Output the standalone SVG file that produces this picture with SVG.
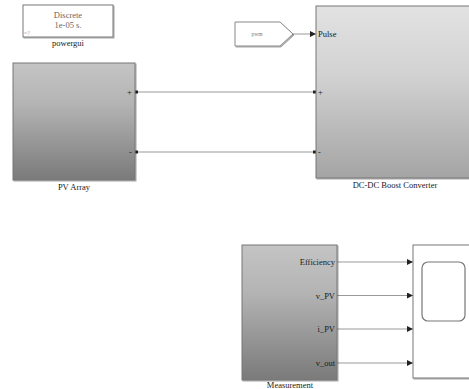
<svg xmlns="http://www.w3.org/2000/svg" width="469" height="389" viewBox="0 0 469 389">
<defs>
<linearGradient id="gPV" x1="0" y1="0" x2="0" y2="1">
<stop offset="0" stop-color="#c4c4c4"/><stop offset="0.35" stop-color="#b4b4b4"/><stop offset="1" stop-color="#7a7a7a"/>
</linearGradient>
<linearGradient id="gConv" x1="0" y1="0" x2="0" y2="1">
<stop offset="0" stop-color="#e2e2e2"/><stop offset="0.4" stop-color="#d2d2d2"/><stop offset="1" stop-color="#a4a4a4"/>
</linearGradient>
<marker id="arr" viewBox="0 0 6 6" refX="6" refY="3" markerWidth="6" markerHeight="6" markerUnits="userSpaceOnUse" orient="auto">
<path d="M0,0 L6,3 L0,6 z" fill="#222"/>
</marker>
<filter id="sh" x="-5%" y="-5%" width="115%" height="115%">
<feDropShadow dx="1" dy="1" stdDeviation="0.6" flood-color="#000" flood-opacity="0.35"/>
</filter>
</defs>
<style>
text{font-family:"Liberation Serif","Times New Roman",serif;fill:#1a1a1a}
.lbl{font-size:8.5px;text-anchor:middle}
.port{font-size:8.5px}
.blk{stroke:#777;stroke-width:1}
.wire{stroke:#999;stroke-width:1;fill:none}
.pt{fill:#222}
</style>

<g id="connectors">
<line class="wire" x1="136" y1="92" x2="316" y2="92"/>
<line class="wire" x1="136" y1="152" x2="316" y2="152"/>
<rect class="pt" x="135" y="90.5" width="3" height="3"/>
<rect class="pt" x="313" y="90.5" width="3" height="3"/>
<rect class="pt" x="135" y="150.5" width="3" height="3"/>
<rect class="pt" x="313" y="150.5" width="3" height="3"/>
<line class="wire" x1="293" y1="34" x2="316" y2="34" marker-end="url(#arr)"/>
<line class="wire" x1="337" y1="262" x2="413" y2="262" marker-end="url(#arr)"/>
<line class="wire" x1="337" y1="295.5" x2="413" y2="295.5" marker-end="url(#arr)"/>
<line class="wire" x1="337" y1="329" x2="413" y2="329" marker-end="url(#arr)"/>
<line class="wire" x1="337" y1="363" x2="413" y2="363" marker-end="url(#arr)"/>
</g>

<g id="powergui">
<rect x="23" y="5" width="90" height="32" fill="#fff" class="blk" filter="url(#sh)"/>
<text class="lbl" x="68" y="18" style="fill:#666">Discrete</text>
<text class="lbl" x="68" y="28" style="fill:#666">1e-05 s.</text>
<text x="24" y="35" style="font-size:6px;fill:#aaa">≈?</text>
<text class="lbl" x="68" y="46">powergui</text>
</g>

<g id="pv-array">
<rect x="13" y="63" width="122" height="117" fill="url(#gPV)" class="blk" filter="url(#sh)"/>
<text class="port" x="127" y="95">+</text>
<text class="port" x="129" y="155">-</text>
<text class="lbl" x="74" y="190">PV Array</text>
</g>

<g id="pwm">
<path d="M235,22 L280,22 L293,34 L280,46 L235,46 Z" fill="#fff" stroke="#888" stroke-width="1" filter="url(#sh)"/>
<text x="257" y="36" style="font-size:5.5px;fill:#777;text-anchor:middle">pwm</text>
</g>

<g id="boost-converter">
<rect x="316" y="6" width="158" height="172" fill="url(#gConv)" class="blk" filter="url(#sh)"/>
<text class="port" x="318" y="37">Pulse</text>
<text class="port" x="318" y="95">+</text>
<text class="port" x="318" y="155">-</text>
<text class="lbl" x="395" y="188">DC-DC Boost Converter</text>
</g>

<g id="measurement">
<rect x="242" y="245" width="95" height="135" fill="url(#gPV)" class="blk" filter="url(#sh)"/>
<text class="port" x="335" y="265" text-anchor="end">Efficiency</text>
<text class="port" x="335" y="298.5" text-anchor="end">v_PV</text>
<text class="port" x="335" y="332" text-anchor="end">i_PV</text>
<text class="port" x="335" y="366" text-anchor="end">v_out</text>
<text class="lbl" x="290" y="388">Measurement</text>
</g>

<g id="scope">
<rect x="413" y="245" width="62" height="133" fill="#fff" class="blk" filter="url(#sh)"/>
<rect x="422" y="262" width="43" height="59" rx="6" fill="#fff" stroke="#777" stroke-width="1.2"/>
</g>
</svg>
